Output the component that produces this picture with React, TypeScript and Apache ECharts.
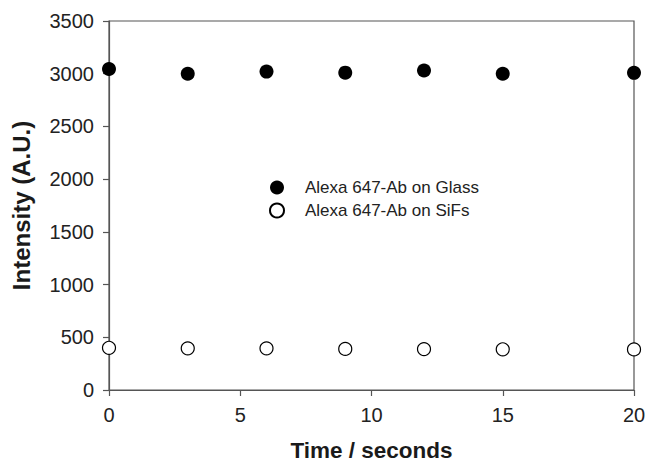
import React, { useEffect, useRef } from "react";
import * as echarts from "echarts";

const timeSeconds = [0, 3, 6, 9, 12, 15, 20];
const glassValues = [3045, 3000, 3020, 3010, 3030, 3000, 3008];
const sifsValues = [400, 395, 395, 390, 388, 386, 385];
const glassName = "Alexa 647-Ab on Glass";
const sifsName = "Alexa 647-Ab on SiFs";

const FONT = "Liberation Sans, Arial, Helvetica, sans-serif";

export default function App() {
  const ref = useRef<HTMLDivElement>(null);
  useEffect(() => {
    if (!ref.current) return;
    const chart = echarts.init(ref.current, undefined, { renderer: "svg" });
    chart.setOption({
      animation: false,
      backgroundColor: "#ffffff",
      textStyle: { fontFamily: FONT },
      grid: {
        left: 109,
        right: 12,
        top: 21,
        bottom: 74,
        containLabel: false,
        outerBoundsMode: "none",
        show: true,
        borderColor: "#555555",
        borderWidth: 1.2,
        backgroundColor: "transparent",
      },
      legend: {
        orient: "vertical",
        left: 264,
        top: 174,
        itemWidth: 46,
        itemHeight: 14,
        itemGap: 6,
        textStyle: { fontFamily: FONT, fontSize: 17, color: "#222" },
        data: [
          { name: glassName, icon: "circle" },
          { name: sifsName, icon: "circle" },
        ],
      },
      xAxis: {
        type: "value",
        min: 0,
        max: 20,
        interval: 5,
        name: "Time / seconds",
        nameLocation: "middle",
        nameGap: 49,
        nameTextStyle: {
          fontFamily: FONT,
          fontSize: 22.5,
          lineHeight: 22,
          fontWeight: "bold",
          color: "#1a1a1a",
        },
        axisLine: { show: true, lineStyle: { color: "#555555", width: 1.2 } },
        axisTick: { show: true, inside: false, length: 6, lineStyle: { color: "#555555", width: 1.2 } },
        axisLabel: { margin: 15, fontFamily: FONT, fontSize: 20, color: "#222" },
        splitLine: { show: false },
      },
      yAxis: {
        type: "value",
        min: 0,
        max: 3500,
        interval: 500,
        name: "Intensity (A.U.)",
        nameLocation: "middle",
        nameGap: 76,
        nameTextStyle: { fontFamily: FONT, fontSize: 24, fontWeight: "bold", color: "#1a1a1a" },
        axisLine: { show: true, lineStyle: { color: "#555555", width: 1.2 } },
        axisTick: { show: true, inside: false, length: 6, lineStyle: { color: "#555555", width: 1.2 } },
        axisLabel: {
          margin: 15,
          fontFamily: FONT,
          fontSize: 20,
          color: "#222",
          formatter: (v: number) => String(v),
        },
        splitLine: { show: false },
      },
      series: [
        {
          name: glassName,
          type: "scatter",
          clip: false,
          symbol: "circle",
          symbolSize: 14,
          itemStyle: { color: "#000000", borderColor: "#000000", borderWidth: 0, opacity: 1 },
          data: timeSeconds.map((t, i) => [t, glassValues[i]]),
        },
        {
          name: sifsName,
          type: "scatter",
          clip: false,
          symbol: "circle",
          symbolSize: 13,
          itemStyle: { color: "#ffffff", borderColor: "#000000", borderWidth: 1.2, opacity: 1 },
          data: timeSeconds.map((t, i) => [t, sifsValues[i]]),
        },
      ],
    });
    return () => chart.dispose();
  }, []);
  return <div ref={ref} style={{ width: 646, height: 464, position: "absolute", left: 0, top: 0 }} />;
}
